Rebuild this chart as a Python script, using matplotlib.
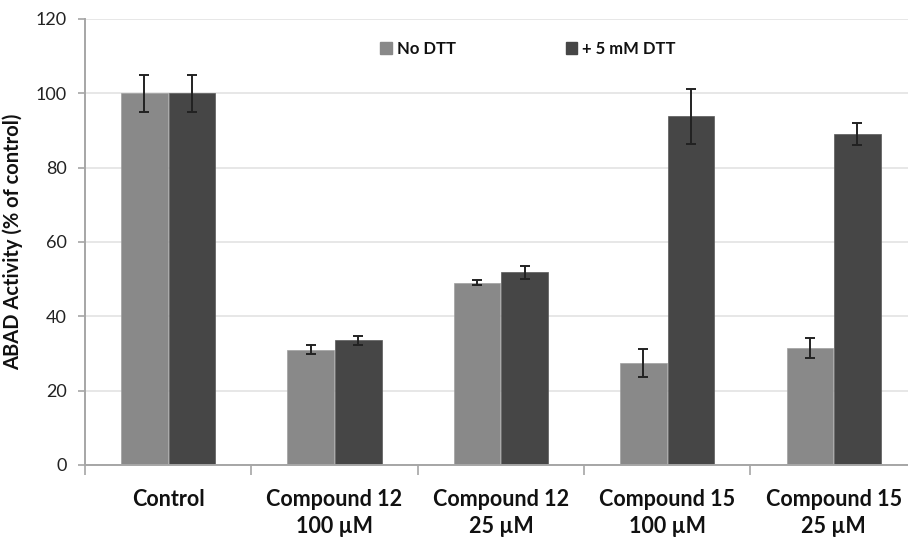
import numpy as np
import matplotlib
matplotlib.use("Agg")
from matplotlib import pyplot as plt
from matplotlib.patches import Patch

# data
categories = ["Control", "Compound 12\n100 µM", "Compound 12\n25 µM",
              "Compound 15\n100 µM", "Compound 15\n25 µM"]
no_dtt = [100, 31, 49, 27.5, 31.5]
no_dtt_err = [5, 1.2, 0.7, 3.8, 2.7]
with_dtt = [100, 33.5, 51.8, 93.8, 89]
with_dtt_err = [5, 1.2, 1.8, 7.4, 3.0]
series_names = ["No DTT", "+ 5 mM DTT"]

light = "#898989"
dark = "#464646"
axis_grey = "#a6a6a6"

plt.rcParams["font.family"] = ["Lato", "DejaVu Sans"]

fig = plt.figure(figsize=(9.08, 5.41), dpi=100)
ax = fig.add_axes([0.0936, 0.1405, 0.9064, 0.8245])

x = np.arange(len(categories))
w = 0.28
ax.bar(x - w / 2 - 0.003, no_dtt, w, color=light, edgecolor="#a0a0a0", linewidth=0.5, zorder=2)
ax.bar(x + w / 2 + 0.003, with_dtt, w, color=dark, edgecolor="#5a5a5a", linewidth=0.5, zorder=2)
ax.errorbar(x - w / 2 - 0.003, no_dtt, yerr=no_dtt_err, fmt="none", ecolor="#222222",
            elinewidth=1.4, capsize=3.5, capthick=1.4, zorder=3)
ax.errorbar(x + w / 2 + 0.003, with_dtt, yerr=with_dtt_err, fmt="none", ecolor="#222222",
            elinewidth=1.4, capsize=3.5, capthick=1.4, zorder=3)

ax.set_xlim(-0.5, 4.447)
ax.set_ylim(0, 120)
ax.set_yticks(range(0, 121, 20))
ax.yaxis.grid(True, color="#e3e3e3", linewidth=1.2, zorder=0)
ax.set_axisbelow(True)

# category labels centred, ticks on the boundaries
ax.set_xticks(x)
ax.set_xticklabels(categories, fontsize=15.5, fontweight="bold", linespacing=1.4,
                   color="#111111")
ax.tick_params(axis="x", length=0, pad=17)
ax.set_xticks(np.arange(-0.5, 4.5, 1), minor=True)
ax.tick_params(axis="x", which="minor", length=7, color=axis_grey, width=1.2)
ax.tick_params(axis="y", length=5, color=axis_grey, width=1.2, labelsize=13,
               labelcolor="#222222", pad=8)

for side in ["top", "right"]:
    ax.spines[side].set_visible(False)
for side in ["left", "bottom"]:
    ax.spines[side].set_color(axis_grey)
    ax.spines[side].set_linewidth(1.4)

ax.set_ylabel("ABAD Activity (% of control)", fontsize=14.5, fontweight="bold",
              color="#111111", labelpad=9)

handles = [Patch(color=light), Patch(color=dark)]
leg = ax.legend(handles, series_names, ncol=2, frameon=False, loc="center",
                bbox_to_anchor=(0.538, 0.933), prop={"size": 12, "weight": "bold"},
                handlelength=0.7, handleheight=0.7, handletextpad=0.3,
                columnspacing=6.6)
for t in leg.get_texts():
    t.set_color("#111111")

fig.savefig("out.png", dpi=100)
